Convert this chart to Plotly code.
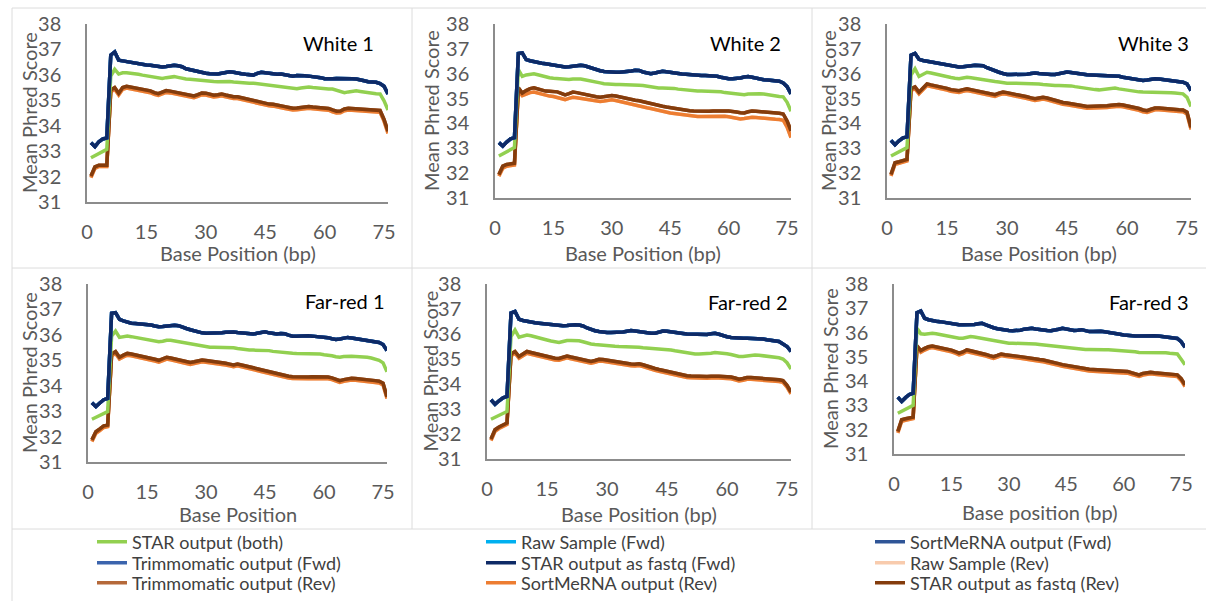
import plotly.graph_objects as go

W, H = 1206, 601

POSITIONS = list(range(1, 77))
X_TICKS = [0, 15, 30, 45, 60, 75]
Y_TICKS = [31, 32, 33, 34, 35, 36, 37, 38]

PANEL_TITLES = ["White 1", "White 2", "White 3", "Far-red 1", "Far-red 2", "Far-red 3"]
X_TITLES = ["Base Position (bp)", "Base Position (bp)", "Base Position (bp)",
            "Base Position", "Base Position (bp)", "Base position (bp)"]
Y_TITLE = "Mean Phred Score"

# ---- mean Phred score per base position (1..76) ----
WHITE1_FWD = [33.33, 33.18, 33.37, 33.48, 33.52, 36.78, 36.90, 36.58, 36.55, 36.52,
              36.50, 36.47, 36.43, 36.41, 36.39, 36.38, 36.36, 36.32, 36.31, 36.33,
              36.35, 36.38, 36.36, 36.32, 36.24, 36.20, 36.15, 36.12, 36.09, 36.06,
              36.04, 36.03, 36.03, 36.06, 36.10, 36.12, 36.10, 36.06, 36.04, 36.02,
              36.00, 35.99, 36.06, 36.10, 36.08, 36.05, 36.04, 36.02, 36.03, 36.01,
              35.98, 35.95, 35.97, 35.98, 35.96, 35.95, 35.94, 35.93, 35.89, 35.85,
              35.84, 35.85, 35.86, 35.86, 35.87, 35.88, 35.85, 35.84, 35.82, 35.77,
              35.73, 35.72, 35.71, 35.66, 35.55, 35.25]
WHITE1_BOTH = [32.74, 32.82, 32.90, 32.99, 33.07, 35.95, 36.22, 36.03, 36.08, 36.08,
               36.07, 36.05, 36.02, 35.99, 35.96, 35.93, 35.90, 35.87, 35.86, 35.89,
               35.92, 35.93, 35.90, 35.86, 35.84, 35.83, 35.81, 35.79, 35.77, 35.75,
               35.74, 35.74, 35.73, 35.74, 35.75, 35.74, 35.72, 35.70, 35.69, 35.68,
               35.67, 35.67, 35.65, 35.63, 35.60, 35.58, 35.57, 35.55, 35.52, 35.49,
               35.46, 35.44, 35.45, 35.48, 35.51, 35.52, 35.50, 35.48, 35.46, 35.45,
               35.44, 35.44, 35.40, 35.34, 35.30, 35.33, 35.36, 35.37, 35.35, 35.32,
               35.29, 35.28, 35.26, 35.25, 34.98, 34.62]
WHITE1_REV_HI = [32.02, 32.38, 32.45, 32.46, 32.45, 35.40, 35.50, 35.28, 35.50, 35.55,
                 35.52, 35.48, 35.46, 35.43, 35.41, 35.37, 35.30, 35.26, 35.32, 35.38,
                 35.36, 35.33, 35.30, 35.27, 35.22, 35.19, 35.17, 35.22, 35.29, 35.28,
                 35.24, 35.20, 35.22, 35.25, 35.21, 35.17, 35.14, 35.14, 35.10, 35.06,
                 35.02, 35.00, 34.96, 34.90, 34.86, 34.85, 34.84, 34.82, 34.79, 34.75,
                 34.72, 34.69, 34.70, 34.73, 34.76, 34.76, 34.74, 34.72, 34.70, 34.69,
                 34.68, 34.62, 34.57, 34.58, 34.66, 34.69, 34.68, 34.66, 34.65, 34.63,
                 34.62, 34.62, 34.62, 34.60, 34.25, 33.78]
WHITE1_REV_LO = [31.96, 32.32, 32.40, 32.41, 32.40, 35.33, 35.43, 35.21, 35.43, 35.48,
                 35.45, 35.41, 35.39, 35.36, 35.34, 35.30, 35.23, 35.19, 35.25, 35.31,
                 35.29, 35.26, 35.23, 35.20, 35.15, 35.12, 35.10, 35.15, 35.22, 35.21,
                 35.17, 35.13, 35.15, 35.18, 35.14, 35.10, 35.07, 35.07, 35.03, 34.99,
                 34.95, 34.93, 34.89, 34.83, 34.79, 34.78, 34.77, 34.75, 34.72, 34.68,
                 34.65, 34.62, 34.63, 34.66, 34.69, 34.69, 34.67, 34.65, 34.63, 34.62,
                 34.61, 34.55, 34.50, 34.51, 34.59, 34.62, 34.61, 34.59, 34.58, 34.56,
                 34.55, 34.55, 34.55, 34.53, 34.18, 33.70]

WHITE2_FWD = [33.23, 33.09, 33.25, 33.38, 33.43, 36.81, 36.84, 36.57, 36.52, 36.48,
              36.44, 36.42, 36.40, 36.37, 36.35, 36.34, 36.31, 36.27, 36.28, 36.30,
              36.33, 36.34, 36.32, 36.27, 36.19, 36.15, 36.12, 36.09, 36.07, 36.06,
              36.06, 36.06, 36.07, 36.08, 36.11, 36.14, 36.13, 36.07, 36.02, 36.00,
              36.03, 36.07, 36.10, 36.08, 36.05, 36.02, 36.00, 35.99, 35.98, 35.96,
              35.94, 35.93, 35.93, 35.93, 35.92, 35.92, 35.90, 35.86, 35.82, 35.80,
              35.80, 35.80, 35.83, 35.87, 35.89, 35.86, 35.82, 35.79, 35.76, 35.75,
              35.73, 35.71, 35.70, 35.63, 35.48, 35.19]
WHITE2_BOTH = [32.69, 32.78, 32.87, 32.96, 33.03, 36.16, 35.89, 35.95, 35.98, 36.00,
               35.96, 35.91, 35.87, 35.84, 35.82, 35.80, 35.78, 35.76, 35.77, 35.79,
               35.80, 35.79, 35.76, 35.72, 35.68, 35.66, 35.63, 35.60, 35.58, 35.57,
               35.57, 35.57, 35.57, 35.56, 35.56, 35.55, 35.54, 35.53, 35.50, 35.47,
               35.44, 35.43, 35.43, 35.43, 35.43, 35.41, 35.38, 35.36, 35.35, 35.34,
               35.32, 35.30, 35.30, 35.30, 35.30, 35.30, 35.29, 35.27, 35.24, 35.22,
               35.20, 35.18, 35.16, 35.15, 35.18, 35.19, 35.19, 35.19, 35.18, 35.15,
               35.12, 35.09, 35.08, 35.07, 34.85, 34.49]
WHITE2_REV_HI = [31.95, 32.28, 32.35, 32.38, 32.40, 35.43, 35.22, 35.32, 35.40, 35.43,
                 35.38, 35.33, 35.30, 35.29, 35.28, 35.27, 35.21, 35.15, 35.20, 35.26,
                 35.24, 35.20, 35.17, 35.14, 35.10, 35.07, 35.05, 35.07, 35.10, 35.12,
                 35.10, 35.06, 35.03, 35.00, 34.96, 34.93, 34.91, 34.87, 34.82, 34.78,
                 34.75, 34.72, 34.69, 34.66, 34.63, 34.60, 34.58, 34.56, 34.53, 34.51,
                 34.50, 34.49, 34.49, 34.48, 34.49, 34.50, 34.51, 34.50, 34.50, 34.50,
                 34.49, 34.46, 34.43, 34.42, 34.47, 34.50, 34.49, 34.48, 34.47, 34.46,
                 34.44, 34.42, 34.41, 34.38, 34.10, 33.70]
WHITE2_REV_LO = [31.88, 32.20, 32.28, 32.31, 32.33, 35.32, 35.12, 35.18, 35.24, 35.26,
                 35.22, 35.16, 35.12, 35.10, 35.08, 35.05, 35.00, 34.96, 35.01, 35.05,
                 35.03, 35.00, 34.99, 34.96, 34.92, 34.89, 34.88, 34.90, 34.93, 34.95,
                 34.92, 34.88, 34.85, 34.82, 34.78, 34.74, 34.71, 34.67, 34.63, 34.60,
                 34.56, 34.52, 34.49, 34.45, 34.42, 34.40, 34.38, 34.35, 34.32, 34.30,
                 34.29, 34.28, 34.28, 34.28, 34.29, 34.30, 34.31, 34.30, 34.29, 34.27,
                 34.23, 34.20, 34.18, 34.20, 34.24, 34.25, 34.24, 34.22, 34.20, 34.19,
                 34.18, 34.17, 34.16, 34.13, 33.85, 33.43]

WHITE3_FWD = [33.32, 33.14, 33.30, 33.42, 33.46, 36.75, 36.82, 36.58, 36.53, 36.50,
              36.48, 36.45, 36.42, 36.40, 36.38, 36.35, 36.31, 36.27, 36.28, 36.31,
              36.34, 36.34, 36.33, 36.32, 36.24, 36.17, 36.12, 36.06, 36.01, 35.97,
              35.97, 35.97, 35.97, 35.97, 35.98, 36.01, 36.03, 36.01, 35.99, 35.97,
              35.97, 35.97, 36.00, 36.04, 36.07, 36.05, 36.02, 35.99, 35.97, 35.96,
              35.95, 35.94, 35.93, 35.93, 35.93, 35.93, 35.92, 35.90, 35.86, 35.83,
              35.80, 35.77, 35.74, 35.73, 35.75, 35.78, 35.80, 35.79, 35.77, 35.76,
              35.74, 35.71, 35.68, 35.66, 35.59, 35.32]
WHITE3_BOTH = [32.69, 32.78, 32.87, 32.95, 33.03, 35.95, 36.20, 35.89, 35.98, 36.06,
               36.03, 35.99, 35.94, 35.91, 35.88, 35.85, 35.82, 35.80, 35.83, 35.86,
               35.84, 35.81, 35.78, 35.76, 35.74, 35.72, 35.69, 35.67, 35.64, 35.62,
               35.62, 35.62, 35.62, 35.62, 35.62, 35.62, 35.61, 35.59, 35.57, 35.55,
               35.54, 35.53, 35.53, 35.53, 35.53, 35.51, 35.48, 35.45, 35.42, 35.39,
               35.37, 35.36, 35.35, 35.37, 35.40, 35.43, 35.42, 35.39, 35.36, 35.35,
               35.33, 35.30, 35.27, 35.26, 35.26, 35.26, 35.26, 35.26, 35.25, 35.24,
               35.23, 35.22, 35.20, 35.19, 35.05, 34.68]
WHITE3_REV_HI = [31.95, 32.42, 32.46, 32.50, 32.55, 35.40, 35.47, 35.26, 35.45, 35.59,
                 35.55, 35.52, 35.49, 35.45, 35.41, 35.36, 35.33, 35.32, 35.36, 35.39,
                 35.36, 35.33, 35.30, 35.27, 35.23, 35.19, 35.16, 35.22, 35.26, 35.24,
                 35.21, 35.18, 35.16, 35.12, 35.07, 35.03, 34.99, 35.02, 35.05, 35.02,
                 34.97, 34.92, 34.87, 34.84, 34.82, 34.80, 34.78, 34.74, 34.71, 34.68,
                 34.68, 34.68, 34.68, 34.69, 34.71, 34.73, 34.75, 34.76, 34.74, 34.71,
                 34.68, 34.65, 34.60, 34.54, 34.51, 34.57, 34.62, 34.62, 34.60, 34.58,
                 34.57, 34.56, 34.55, 34.54, 34.45, 33.84]
WHITE3_REV_LO = [31.89, 32.36, 32.40, 32.44, 32.49, 35.33, 35.40, 35.19, 35.38, 35.52,
                 35.48, 35.45, 35.42, 35.38, 35.34, 35.29, 35.26, 35.25, 35.29, 35.32,
                 35.29, 35.26, 35.23, 35.20, 35.16, 35.12, 35.09, 35.15, 35.19, 35.17,
                 35.14, 35.11, 35.09, 35.05, 35.00, 34.96, 34.92, 34.95, 34.98, 34.95,
                 34.90, 34.85, 34.80, 34.77, 34.75, 34.73, 34.71, 34.67, 34.64, 34.61,
                 34.61, 34.61, 34.61, 34.62, 34.64, 34.66, 34.68, 34.69, 34.67, 34.64,
                 34.61, 34.58, 34.53, 34.47, 34.44, 34.50, 34.55, 34.55, 34.53, 34.51,
                 34.50, 34.49, 34.48, 34.47, 34.38, 33.76]

FARRED1_FWD = [33.33, 33.18, 33.32, 33.45, 33.50, 36.85, 36.87, 36.61, 36.55, 36.50,
               36.46, 36.45, 36.44, 36.43, 36.42, 36.39, 36.35, 36.32, 36.33, 36.35,
               36.37, 36.38, 36.36, 36.32, 36.25, 36.20, 36.15, 36.11, 36.08, 36.06,
               36.06, 36.06, 36.06, 36.08, 36.10, 36.12, 36.11, 36.09, 36.08, 36.07,
               36.05, 36.03, 36.06, 36.10, 36.12, 36.08, 36.04, 36.03, 36.05, 36.04,
               35.99, 35.95, 35.95, 35.96, 35.96, 35.96, 35.95, 35.94, 35.93, 35.93,
               35.89, 35.85, 35.82, 35.84, 35.87, 35.90, 35.88, 35.85, 35.83, 35.82,
               35.79, 35.76, 35.73, 35.70, 35.62, 35.38]
FARRED1_BOTH = [32.68, 32.75, 32.83, 32.91, 32.98, 35.95, 36.15, 35.90, 35.93, 35.95,
                35.93, 35.90, 35.87, 35.85, 35.83, 35.80, 35.76, 35.73, 35.75, 35.79,
                35.79, 35.76, 35.72, 35.69, 35.67, 35.65, 35.62, 35.60, 35.57, 35.53,
                35.51, 35.51, 35.51, 35.51, 35.51, 35.51, 35.49, 35.46, 35.43, 35.41,
                35.40, 35.40, 35.40, 35.40, 35.40, 35.38, 35.35, 35.33, 35.31, 35.30,
                35.29, 35.28, 35.27, 35.27, 35.27, 35.27, 35.27, 35.27, 35.25, 35.22,
                35.21, 35.18, 35.14, 35.12, 35.15, 35.17, 35.16, 35.15, 35.15, 35.14,
                35.12, 35.09, 35.05, 35.00, 34.90, 34.55]
FARRED1_REV_HI = [31.87, 32.19, 32.30, 32.42, 32.45, 35.25, 35.34, 35.12, 35.20, 35.27,
                  35.25, 35.22, 35.18, 35.14, 35.12, 35.08, 35.04, 35.00, 35.07, 35.12,
                  35.09, 35.05, 35.00, 34.96, 34.93, 34.91, 34.94, 34.99, 35.01, 34.99,
                  34.97, 34.96, 34.95, 34.92, 34.88, 34.85, 34.82, 34.85, 34.82, 34.77,
                  34.74, 34.71, 34.67, 34.63, 34.59, 34.56, 34.52, 34.49, 34.45, 34.41,
                  34.37, 34.35, 34.34, 34.33, 34.33, 34.34, 34.35, 34.35, 34.35, 34.35,
                  34.34, 34.31, 34.25, 34.20, 34.24, 34.28, 34.29, 34.28, 34.27, 34.25,
                  34.23, 34.21, 34.20, 34.18, 34.10, 33.57]
FARRED1_REV_LO = [31.81, 32.13, 32.24, 32.36, 32.39, 35.18, 35.27, 35.05, 35.13, 35.20,
                  35.18, 35.15, 35.11, 35.07, 35.05, 35.01, 34.97, 34.93, 35.00, 35.05,
                  35.02, 34.98, 34.93, 34.89, 34.86, 34.84, 34.87, 34.92, 34.94, 34.92,
                  34.90, 34.89, 34.88, 34.85, 34.81, 34.78, 34.75, 34.78, 34.75, 34.70,
                  34.67, 34.64, 34.60, 34.56, 34.52, 34.49, 34.45, 34.42, 34.38, 34.34,
                  34.30, 34.28, 34.27, 34.26, 34.26, 34.27, 34.28, 34.28, 34.28, 34.28,
                  34.27, 34.24, 34.18, 34.13, 34.17, 34.21, 34.22, 34.21, 34.20, 34.18,
                  34.16, 34.14, 34.13, 34.11, 34.03, 33.50]

FARRED2_FWD = [33.37, 33.19, 33.33, 33.45, 33.50, 36.84, 36.90, 36.59, 36.54, 36.50,
               36.47, 36.45, 36.43, 36.41, 36.40, 36.38, 36.35, 36.32, 36.33, 36.34,
               36.36, 36.37, 36.36, 36.32, 36.24, 36.17, 36.13, 36.10, 36.07, 36.06,
               36.06, 36.06, 36.06, 36.08, 36.11, 36.14, 36.12, 36.09, 36.07, 36.05,
               36.03, 36.03, 36.07, 36.12, 36.11, 36.08, 36.06, 36.04, 36.02, 36.00,
               35.99, 35.98, 35.97, 35.96, 35.98, 36.01, 36.03, 35.99, 35.93, 35.89,
               35.86, 35.84, 35.83, 35.83, 35.83, 35.83, 35.83, 35.82, 35.80, 35.77,
               35.75, 35.73, 35.70, 35.60, 35.50, 35.30]
FARRED2_BOTH = [32.59, 32.67, 32.75, 32.83, 32.90, 35.90, 36.16, 35.87, 35.92, 35.96,
                35.93, 35.88, 35.83, 35.79, 35.76, 35.72, 35.69, 35.66, 35.70, 35.74,
                35.74, 35.74, 35.73, 35.69, 35.64, 35.60, 35.58, 35.56, 35.54, 35.52,
                35.51, 35.51, 35.50, 35.50, 35.50, 35.50, 35.49, 35.47, 35.45, 35.44,
                35.43, 35.42, 35.41, 35.40, 35.39, 35.36, 35.33, 35.30, 35.27, 35.25,
                35.22, 35.20, 35.20, 35.20, 35.21, 35.23, 35.26, 35.25, 35.23, 35.21,
                35.18, 35.14, 35.10, 35.10, 35.13, 35.15, 35.16, 35.15, 35.13, 35.12,
                35.11, 35.08, 35.05, 35.00, 34.85, 34.60]
FARRED2_REV_HI = [31.80, 32.17, 32.28, 32.38, 32.44, 35.20, 35.30, 35.10, 35.20, 35.30,
                  35.26, 35.22, 35.18, 35.14, 35.10, 35.06, 35.03, 35.02, 35.08, 35.12,
                  35.08, 35.04, 34.99, 34.95, 34.92, 34.90, 34.94, 34.99, 34.98, 34.95,
                  34.92, 34.90, 34.88, 34.85, 34.82, 34.80, 34.79, 34.81, 34.77, 34.71,
                  34.67, 34.62, 34.58, 34.54, 34.50, 34.47, 34.43, 34.40, 34.36, 34.33,
                  34.32, 34.31, 34.30, 34.30, 34.30, 34.31, 34.32, 34.31, 34.30, 34.30,
                  34.28, 34.24, 34.19, 34.22, 34.26, 34.26, 34.25, 34.24, 34.23, 34.22,
                  34.21, 34.19, 34.17, 34.14, 33.95, 33.68]
FARRED2_REV_LO = [31.74, 32.11, 32.22, 32.32, 32.38, 35.13, 35.23, 35.03, 35.13, 35.23,
                  35.19, 35.15, 35.11, 35.07, 35.03, 34.99, 34.96, 34.95, 35.01, 35.05,
                  35.01, 34.97, 34.92, 34.88, 34.85, 34.83, 34.87, 34.92, 34.91, 34.88,
                  34.85, 34.83, 34.81, 34.78, 34.75, 34.73, 34.72, 34.74, 34.70, 34.64,
                  34.60, 34.55, 34.51, 34.47, 34.43, 34.40, 34.36, 34.33, 34.29, 34.26,
                  34.25, 34.24, 34.23, 34.23, 34.23, 34.24, 34.25, 34.24, 34.23, 34.23,
                  34.21, 34.17, 34.12, 34.15, 34.19, 34.19, 34.18, 34.17, 34.16, 34.15,
                  34.14, 34.12, 34.10, 34.07, 33.88, 33.61]

FARRED3_FWD = [33.34, 33.16, 33.32, 33.45, 33.50, 36.82, 36.89, 36.59, 36.53, 36.49,
               36.47, 36.45, 36.42, 36.40, 36.38, 36.35, 36.32, 36.32, 36.32, 36.32,
               36.33, 36.36, 36.38, 36.32, 36.25, 36.20, 36.16, 36.13, 36.10, 36.09,
               36.08, 36.08, 36.10, 36.14, 36.17, 36.18, 36.15, 36.12, 36.10, 36.09,
               36.08, 36.10, 36.14, 36.18, 36.15, 36.11, 36.09, 36.10, 36.12, 36.08,
               36.04, 36.04, 36.05, 36.05, 36.03, 36.01, 36.00, 35.97, 35.93, 35.90,
               35.88, 35.87, 35.86, 35.86, 35.87, 35.88, 35.88, 35.87, 35.86, 35.84,
               35.80, 35.77, 35.77, 35.76, 35.62, 35.40]
FARRED3_BOTH = [32.68, 32.76, 32.84, 32.92, 33.00, 36.18, 35.95, 35.93, 35.95, 35.97,
                35.95, 35.92, 35.88, 35.86, 35.83, 35.80, 35.77, 35.77, 35.80, 35.84,
                35.82, 35.79, 35.77, 35.74, 35.70, 35.68, 35.65, 35.62, 35.58, 35.56,
                35.56, 35.56, 35.56, 35.56, 35.56, 35.55, 35.53, 35.51, 35.49, 35.47,
                35.45, 35.44, 35.42, 35.40, 35.39, 35.37, 35.35, 35.33, 35.32, 35.30,
                35.30, 35.29, 35.29, 35.29, 35.29, 35.29, 35.28, 35.28, 35.27, 35.26,
                35.26, 35.24, 35.21, 35.18, 35.18, 35.19, 35.20, 35.19, 35.18, 35.18,
                35.17, 35.15, 35.13, 35.12, 34.90, 34.67]
FARRED3_REV_HI = [31.93, 32.41, 32.45, 32.49, 32.52, 35.45, 35.26, 35.35, 35.42, 35.45,
                  35.42, 35.38, 35.35, 35.32, 35.28, 35.22, 35.15, 35.20, 35.29, 35.25,
                  35.22, 35.19, 35.15, 35.10, 35.05, 35.01, 35.06, 35.12, 35.09, 35.06,
                  35.04, 35.03, 35.01, 34.98, 34.95, 34.93, 34.91, 34.89, 34.87, 34.84,
                  34.80, 34.76, 34.72, 34.68, 34.65, 34.62, 34.59, 34.56, 34.53, 34.50,
                  34.49, 34.48, 34.47, 34.47, 34.47, 34.47, 34.46, 34.45, 34.44, 34.42,
                  34.40, 34.35, 34.29, 34.26, 34.32, 34.36, 34.37, 34.35, 34.33, 34.32,
                  34.30, 34.28, 34.27, 34.26, 34.10, 33.85]
FARRED3_REV_LO = [31.87, 32.35, 32.39, 32.43, 32.46, 35.38, 35.19, 35.28, 35.35, 35.38,
                  35.35, 35.31, 35.28, 35.25, 35.21, 35.15, 35.08, 35.13, 35.22, 35.18,
                  35.15, 35.12, 35.08, 35.03, 34.98, 34.94, 34.99, 35.05, 35.02, 34.99,
                  34.97, 34.96, 34.94, 34.91, 34.88, 34.86, 34.84, 34.82, 34.80, 34.77,
                  34.73, 34.69, 34.65, 34.61, 34.58, 34.55, 34.52, 34.49, 34.46, 34.43,
                  34.42, 34.41, 34.40, 34.40, 34.40, 34.40, 34.39, 34.38, 34.37, 34.35,
                  34.33, 34.28, 34.22, 34.19, 34.25, 34.29, 34.30, 34.28, 34.26, 34.25,
                  34.23, 34.21, 34.20, 34.19, 34.03, 33.78]

PANEL_DATA = [
    {"fwd": WHITE1_FWD, "both": WHITE1_BOTH, "rev_hi": WHITE1_REV_HI, "rev_lo": WHITE1_REV_LO},
    {"fwd": WHITE2_FWD, "both": WHITE2_BOTH, "rev_hi": WHITE2_REV_HI, "rev_lo": WHITE2_REV_LO},
    {"fwd": WHITE3_FWD, "both": WHITE3_BOTH, "rev_hi": WHITE3_REV_HI, "rev_lo": WHITE3_REV_LO},
    {"fwd": FARRED1_FWD, "both": FARRED1_BOTH, "rev_hi": FARRED1_REV_HI, "rev_lo": FARRED1_REV_LO},
    {"fwd": FARRED2_FWD, "both": FARRED2_BOTH, "rev_hi": FARRED2_REV_HI, "rev_lo": FARRED2_REV_LO},
    {"fwd": FARRED3_FWD, "both": FARRED3_BOTH, "rev_hi": FARRED3_REV_HI, "rev_lo": FARRED3_REV_LO},
]

# series in drawing order (bottom first): name, colour, data key, key column, key row
SERIES = [
    ("Raw Sample (Rev)", "#F8CBAD", "rev_lo", 2, 1),
    ("SortMeRNA output (Rev)", "#ED7D31", "rev_lo", 1, 2),
    ("Trimmomatic output (Rev)", "#B5693A", "rev_hi", 0, 2),
    ("STAR output as fastq (Rev)", "#843C0C", "rev_hi", 2, 2),
    ("STAR output (both)", "#92D050", "both", 0, 0),
    ("Raw Sample (Fwd)", "#00B0F0", "fwd", 1, 0),
    ("SortMeRNA output (Fwd)", "#2F5597", "fwd", 2, 0),
    ("Trimmomatic output (Fwd)", "#3B64AD", "fwd", 0, 1),
    ("STAR output as fastq (Fwd)", "#0E2A66", "fwd", 1, 1),
]

# key layout (pixels): left edge of each column, centre of each row
KEY_COLUMNS = [92, 481, 870]
KEY_ROWS = [542, 563, 583]

# panel geometry in pixels: plot-area left, right, top (y=38), bottom (y=31),
# x-title row, y-title column, panel-title position
PANEL_BOX = [
    dict(l=87, r=388, t=24, b=202, xt=253, yt=29, tx=338, ty=43),
    dict(l=495, r=791, t=24, b=198, xt=253, yt=431, tx=745, ty=43),
    dict(l=887, r=1191, t=24, b=198, xt=253, yt=828, tx=1153, ty=43),
    dict(l=88, r=387, t=284, b=462, xt=514, yt=29, tx=345, ty=301),
    dict(l=487, r=791, t=284, b=459, xt=514, yt=429, tx=747, ty=302),
    dict(l=894, r=1185, t=284, b=454, xt=512, yt=830, tx=1148, ty=302),
]

FONT = "Lato, 'Open Sans', sans-serif"
GREY_TEXT = "#595959"
AXIS_LINE = "#8C8C8C"
CELL_LINE = "#DCDCDC"


def px_x(v):
    return v / W


def px_y(v):
    return 1 - v / H


fig = go.Figure()
layout = dict(
    width=W, height=H,
    margin=dict(l=0, r=0, t=0, b=0, autoexpand=False),
    paper_bgcolor="white", plot_bgcolor="white",
    font=dict(family=FONT, color=GREY_TEXT),
    showlegend=True,
    annotations=[], shapes=[],
)

legend_ids = []
for k, (name, color, key, col, row) in enumerate(SERIES):
    lid = "legend" if k == 0 else f"legend{k + 1}"
    legend_ids.append(lid)
    layout[lid] = dict(
        orientation="v", xanchor="left", yanchor="middle",
        x=px_x(KEY_COLUMNS[col]), y=px_y(KEY_ROWS[row]),
        bgcolor="rgba(0,0,0,0)", borderwidth=0, itemwidth=30,
        font=dict(size=18, color="#404040", family=FONT),
        itemclick=False, itemdoubleclick=False,
    )

for i, (data, box) in enumerate(zip(PANEL_DATA, PANEL_BOX)):
    suffix = "" if i == 0 else str(i + 1)
    for k, (name, color, key, col, row) in enumerate(SERIES):
        fig.add_trace(go.Scatter(
            x=POSITIONS, y=data[key], mode="lines", name=name,
            line=dict(color=color, width=3.5),
            xaxis="x" + suffix, yaxis="y" + suffix,
            showlegend=(i == 0), legend=legend_ids[k],
            hoverinfo="skip",
        ))
    layout["xaxis" + suffix] = dict(
        domain=[px_x(box["l"]), px_x(box["r"])], anchor="y" + suffix,
        range=[0, 76], tickvals=X_TICKS, showgrid=False, zeroline=False,
        showline=True, linecolor=AXIS_LINE, linewidth=1.5, ticks="",
        automargin=False, ticklabelstandoff=11,
        tickfont=dict(size=20, color=GREY_TEXT, family=FONT),
    )
    layout["yaxis" + suffix] = dict(
        domain=[px_y(box["b"]), px_y(box["t"])], anchor="x" + suffix,
        range=[31, 38], tickvals=Y_TICKS, showgrid=False, zeroline=False,
        showline=True, linecolor=AXIS_LINE, linewidth=1.5, ticks="",
        automargin=False, ticklabelstandoff=20,
        tickfont=dict(size=20, color=GREY_TEXT, family=FONT),
    )
    layout["annotations"] += [
        dict(text=X_TITLES[i], xref="paper", yref="paper",
             x=px_x((box["l"] + box["r"]) / 2), y=px_y(box["xt"]),
             xanchor="center", yanchor="middle", showarrow=False,
             font=dict(size=20, color=GREY_TEXT, family=FONT)),
        dict(text=Y_TITLE, xref="paper", yref="paper", textangle=-90,
             x=px_x(box["yt"]), y=px_y((box["t"] + box["b"]) / 2),
             xanchor="center", yanchor="middle", showarrow=False,
             font=dict(size=20, color=GREY_TEXT, family=FONT)),
        dict(text=PANEL_TITLES[i], xref="paper", yref="paper",
             x=px_x(box["tx"]), y=px_y(box["ty"]),
             xanchor="center", yanchor="middle", showarrow=False,
             font=dict(size=20, color="black", family=FONT)),
    ]

# table-like frame around the six panels and the key
for yy in (8, 268, 529):
    layout["shapes"].append(dict(type="line", xref="paper", yref="paper",
                                 x0=px_x(12), x1=1, y0=px_y(yy), y1=px_y(yy),
                                 line=dict(color=CELL_LINE, width=1)))
for xx, y_end in ((12, 601), (412, 529), (812, 529)):
    layout["shapes"].append(dict(type="line", xref="paper", yref="paper",
                                 x0=px_x(xx), x1=px_x(xx), y0=px_y(8), y1=px_y(y_end),
                                 line=dict(color=CELL_LINE, width=1)))

fig.update_layout(**layout)
fig.write_html("out.html", config={"displayModeBar": False})
